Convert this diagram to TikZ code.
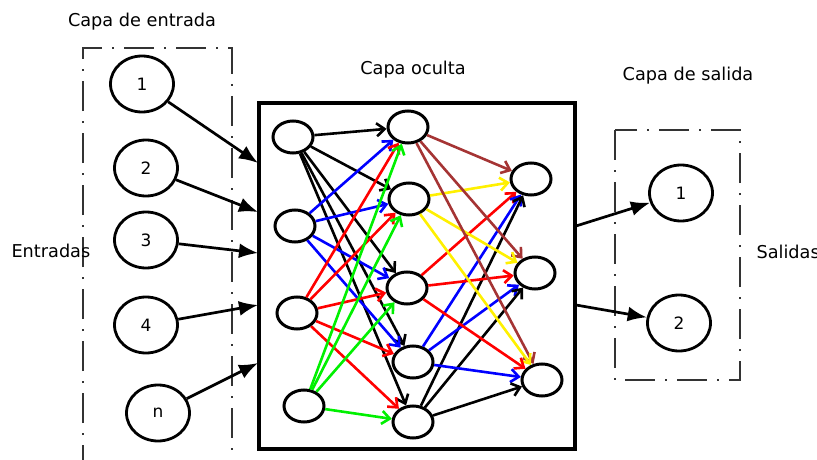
\documentclass[tikz,border=0pt]{standalone}
\usepackage{fontspec}
\setmainfont{DejaVu Sans}
\usetikzlibrary{arrows.meta,shapes.geometric}

\definecolor{arrbrown}{RGB}{165,52,52}
\definecolor{arrred}{RGB}{255,0,0}
\definecolor{arrblue}{RGB}{0,0,255}
\definecolor{arrgreen}{RGB}{0,240,0}
\definecolor{arryellow}{RGB}{255,240,0}

\tikzset{
  unit/.style={ellipse, draw, line width=2.8pt, fill=white, inner sep=0pt,
               minimum width=63pt, minimum height=56pt,
               font=\fontsize{17}{19}\selectfont},
  neuron/.style={ellipse, draw, line width=3pt, fill=white, inner sep=0pt,
                 minimum width=40pt, minimum height=32pt},
  layerbox/.style={draw=black!80, line width=1.8pt,
                   dash pattern=on 30pt off 10pt on 2pt off 10pt},
  label/.style={font=\fontsize{17.7}{20}\selectfont},
  feed/.style={line width=2.7pt, -{Latex[length=19pt,width=15pt]}},
  link/.style={line width=2.6pt, -{Straight Barb[length=8pt,width=13pt,line width=2.6pt]}},
}

\begin{document}
\begin{tikzpicture}[x=1pt,y=-1pt]
\useasboundingbox (0,0) rectangle (817,460);

% layer frames
\draw[layerbox] (83,475) -- (83,48) -- (232,48) -- (232,475);
\draw[layerbox] (615,130) rectangle (740,380);

% titles
\node[label] (tin) at (142,22) {Capa de entrada};
\node[label] (thid) at (413,70) {Capa oculta};
\node[label] (tout) at (688,76) {Capa de salida};
\node[label, anchor=west] (lin) at (8,251) {Entradas};
\node[label, anchor=west] (lout) at (753,252) {Salidas};

% hidden block
\node[draw, line width=3.3pt, minimum width=316pt, minimum height=346pt,
      inner sep=0pt] (hid) at (417,276) {};

% input units
\node[unit] (i1) at (142,84) {1};
\node[unit] (i2) at (146,168) {2};
\node[unit] (i3) at (146,240) {3};
\node[unit] (i4) at (146,325) {4};
\node[unit] (in) at (158,413) {n};

% output units
\node[unit] (o1) at (681,193) {1};
\node[unit] (o2) at (679,323) {2};

% ports on the hidden block
\coordinate (p1) at (258,163);
\coordinate (p2) at (258,212);
\coordinate (p3) at (258,253);
\coordinate (p4) at (258,305);
\coordinate (p5) at (258,363);
\coordinate (q1) at (576,226);
\coordinate (q2) at (576,305);

\draw[feed] (i1) -- (p1);
\draw[feed] (i2) -- (p2);
\draw[feed] (i3) -- (p3);
\draw[feed] (i4) -- (p4);
\draw[feed] (in) -- (p5);
\draw[feed] (q1) -- (o1);
\draw[feed] (q2) -- (o2);

% hidden network neurons
\node[neuron] (a1) at (293,137) {};
\node[neuron] (a2) at (295,226) {};
\node[neuron] (a3) at (297,313) {};
\node[neuron] (a4) at (304,406) {};
\node[neuron] (b1) at (408,127) {};
\node[neuron] (b2) at (409,199) {};
\node[neuron] (b3) at (407,288) {};
\node[neuron] (b4) at (413,362) {};
\node[neuron] (b5) at (413,422) {};
\node[neuron] (c1) at (531,179) {};
\node[neuron] (c2) at (535,273) {};
\node[neuron] (c3) at (542,380) {};

% first to second layer
\foreach \t in {b1,b2,b3,b4,b5} \draw[link, black] (a1) -- (\t);
\foreach \t in {b1,b2,b3,b4} \draw[link, arrblue] (a2) -- (\t);
\foreach \t in {b1,b2,b3,b4,b5} \draw[link, arrred] (a3) -- (\t);
\foreach \t in {b1,b2,b3,b5} \draw[link, arrgreen] (a4) -- (\t);

% second to third layer
\foreach \t in {c1,c2,c3} {
  \draw[link, arrbrown] (b1) -- (\t);
  \draw[link, arryellow] (b2) -- (\t);
  \draw[link, arrred] (b3) -- (\t);
  \draw[link, arrblue] (b4) -- (\t);
  \draw[link, black] (b5) -- (\t);
}
\end{tikzpicture}
\end{document}
